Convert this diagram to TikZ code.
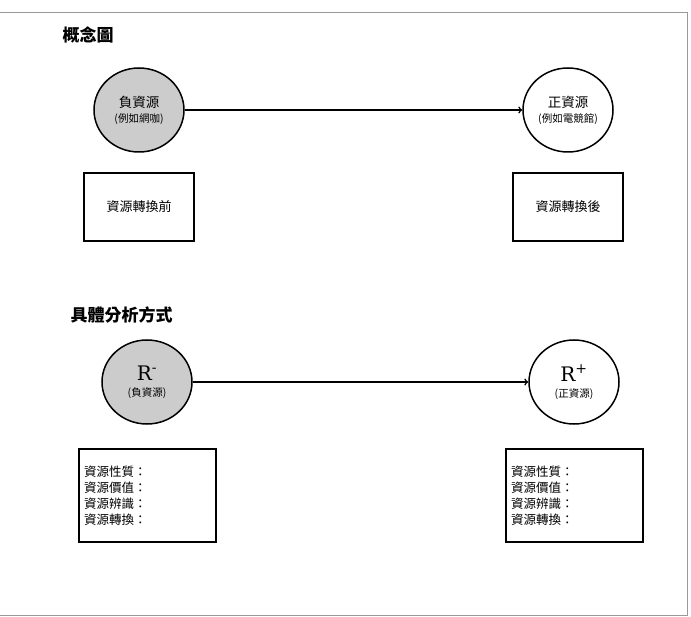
\documentclass[tikz,border=0pt]{standalone}
\usepackage{fontspec}
\setmainfont{Noto Sans CJK TC}
\newfontfamily\rfont{DejaVu Serif}
\usetikzlibrary{shapes.geometric}
\tikzset{
  res/.style={draw,line width=1.5pt,ellipse,minimum width=90pt,minimum height=84pt,inner sep=0pt,align=center},
  negres/.style={res,fill=gray!40},
  stagebox/.style={draw,line width=1.5pt,minimum width=110pt,minimum height=68pt,font=\fontsize{13pt}{15pt}\selectfont},
  infobox/.style={draw,line width=1.5pt,minimum width=137pt,minimum height=93pt,text width=127pt,inner sep=5pt,align=left,font=\fontsize{12.5pt}{16pt}\selectfont},
  heading/.style={anchor=west,font=\fontsize{17pt}{19pt}\selectfont\bfseries},
  link/.style={line width=1.5pt,->}
}
\newcommand{\sub}[1]{{\fontsize{10.5pt}{12pt}\selectfont #1}}
\begin{document}
\begin{tikzpicture}[x=1pt,y=-1pt]
  \useasboundingbox (0,0) rectangle (691,617);
  % outer frame
  \draw[gray!80,line width=1pt] (-2,13) -- (687,13) -- (687,615) -- (-2,615);

  % concept part
  \node[heading] (title1) at (59,35) {概念圖};
  \node[negres,font=\fontsize{13.5pt}{15pt}\selectfont] (neg1) at (139,110) {負資源\\\sub{(例如網咖)}};
  \node[res,font=\fontsize{13.5pt}{15pt}\selectfont] (pos1) at (568,110) {正資源\\\sub{(例如電競館)}};
  \draw[link] (neg1) -- (pos1);
  \node[stagebox] (before) at (139,207) {資源轉換前};
  \node[stagebox] (after) at (568,207) {資源轉換後};

  % analysis part
  \node[heading] (title2) at (67,315) {具體分析方式};
  \node[negres] (neg2) at (147,382) {{\rfont\fontsize{20pt}{22pt}\selectfont R\textsuperscript{-}}\\[4pt]\sub{(負資源)}};
  \node[res] (pos2) at (574,382) {{\rfont\fontsize{20pt}{22pt}\selectfont R\textsuperscript{+}}\\[4pt]\sub{(正資源)}};
  \draw[link] (neg2) -- (pos2);
  \node[infobox] (info1) at (147.5,495.5) {資源性質：\\資源價值：\\資源辨識：\\資源轉換：};
  \node[infobox] (info2) at (574.5,495.5) {資源性質：\\資源價值：\\資源辨識：\\資源轉換：};
\end{tikzpicture}
\end{document}
